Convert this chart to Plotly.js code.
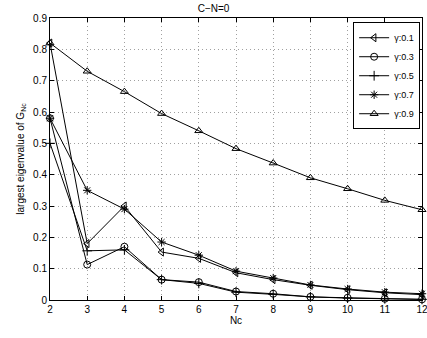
<!DOCTYPE html>
<html>
<head>
<meta charset="utf-8">
<script src="https://cdn.plot.ly/plotly-3.0.1.min.js"></script>
<style>html,body{margin:0;padding:0;background:#fff;}#chart{width:427px;height:338px;}</style>
</head>
<body>
<div id="chart"></div>
<script>
const nc = [2, 3, 4, 5, 6, 7, 8, 9, 10, 11, 12];
const g01 = [0.82, 0.18, 0.30, 0.153, 0.133, 0.087, 0.065, 0.047, 0.033, 0.023, 0.017];
const g03 = [0.58, 0.113, 0.17, 0.065, 0.057, 0.027, 0.020, 0.010, 0.007, 0.004, 0.002];
const g05 = [0.50, 0.157, 0.16, 0.065, 0.053, 0.025, 0.018, 0.010, 0.006, 0.004, 0.002];
const g07 = [0.58, 0.35, 0.29, 0.185, 0.143, 0.092, 0.070, 0.048, 0.035, 0.025, 0.020];
const g09 = [0.82, 0.73, 0.665, 0.595, 0.54, 0.483, 0.437, 0.39, 0.355, 0.318, 0.288];
const names = ["γ:0.1", "γ:0.3", "γ:0.5", "γ:0.7", "γ:0.9"];
const series = [g01, g03, g05, g07, g09];
const symbols = ["triangle-left-open", "circle-open", "cross-thin-open", "asterisk-open", "triangle-up-open"];

const traces = series.map((ys, i) => ({
  x: nc, y: ys, name: names[i], type: "scatter", mode: "lines+markers",
  cliponaxis: false,
  line: {color: "#000", width: 1},
  marker: {symbol: symbols[i], size: 7, color: "#000", line: {color: "#000", width: 1}}
}));

const axisCommon = {
  showline: true, linecolor: "#000", linewidth: 1, mirror: "ticks",
  ticks: "inside", ticklen: 4, tickcolor: "#000",
  showgrid: true, gridcolor: "#a0a0a0", griddash: "1px,3px", gridwidth: 1,
  zeroline: false, tickfont: {size: 10, color: "#000"}
};

const layout = {
  width: 427, height: 338,
  margin: {l: 50, r: 5, t: 18, b: 38},
  paper_bgcolor: "#fff", plot_bgcolor: "#fff",
  font: {family: "Liberation Sans, Arial, sans-serif", size: 10, color: "#000"},
  title: {text: "C−N=0", x: 0.5, xanchor: "center", y: 0.985, yanchor: "top", font: {size: 10}},
  xaxis: Object.assign({}, axisCommon, {range: [2, 12], tickvals: nc, ticktext: nc.map(String),
    ticklabeloverflow: "allow",
    title: {text: "Nc", standoff: 2, font: {size: 10}}}),
  yaxis: Object.assign({}, axisCommon, {range: [0, 0.9], dtick: 0.1, tick0: 0,
    title: {text: "largest eigenvalue of G<sub>Nc</sub>", standoff: 6, font: {size: 10}}}),
  legend: {x: 0.995, y: 0.985, xanchor: "right", yanchor: "top", bgcolor: "#fff",
    bordercolor: "#000", borderwidth: 1, font: {size: 9}, tracegroupgap: 0,
    itemwidth: 30},
  showlegend: true
};

Plotly.newPlot("chart", traces, layout, {displayModeBar: false, staticPlot: true});
</script>
</body>
</html>
